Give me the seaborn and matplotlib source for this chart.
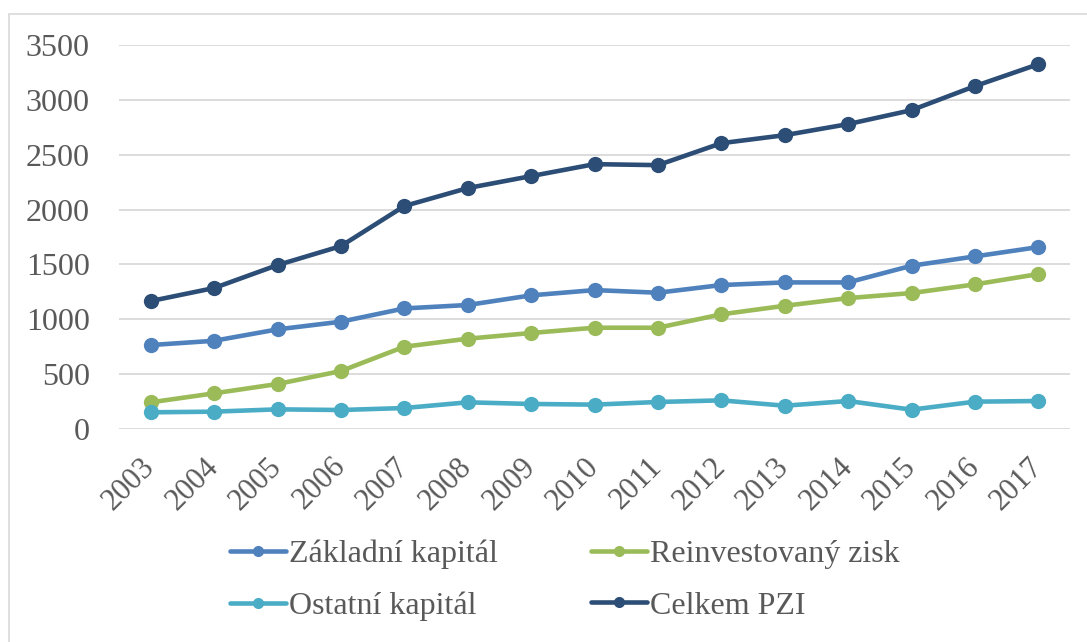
import matplotlib
matplotlib.use("Agg")
import matplotlib.pyplot as plt
import matplotlib.patches as mpatches
import seaborn as sns
import pandas as pd

# hodnoty
roky = list(range(2003, 2018))
zakladni = [765, 804, 908, 978, 1099, 1130, 1218, 1266, 1242, 1312, 1336, 1336, 1488, 1573, 1658]
reinvest = [243, 325, 410, 528, 750, 823, 875, 923, 923, 1045, 1123, 1193, 1239, 1318, 1412]
ostatni = [152, 158, 179, 173, 191, 243, 228, 222, 246, 261, 212, 255, 176, 249, 255]
celkem = [1166, 1285, 1494, 1667, 2032, 2196, 2305, 2414, 2405, 2605, 2678, 2779, 2906, 3125, 3325]

serie = ["Základní kapitál", "Reinvestovaný zisk", "Ostatní kapitál", "Celkem PZI"]
barvy = ["#4F81BD", "#9BBB59", "#4BACC6", "#2C4D75"]
y_ticks = [0, 500, 1000, 1500, 2000, 2500, 3000, 3500]

df = pd.concat([
    pd.DataFrame({"rok": roky, "hodnota": v, "serie": s})
    for s, v in zip(serie, [zakladni, reinvest, ostatni, celkem])
])

sns.set_style("white")
plt.rcParams["font.family"] = ["Liberation Serif", "DejaVu Serif"]
seda = "#595959"

fig = plt.figure(figsize=(10.87, 6.42), dpi=100)
fig.patches.append(mpatches.Rectangle((9 / 1087, -0.1), 2, (628 / 642) + 0.1,
                                      transform=fig.transFigure, fill=False,
                                      edgecolor="#D9D9D9", linewidth=1.2))
ax = fig.add_axes([0.1095, 0.3318, 0.8749, 0.5981])

sns.lineplot(data=df, x="rok", y="hodnota", hue="serie", hue_order=serie,
             palette=barvy, marker="o", markersize=11, markeredgewidth=0,
             linewidth=3.3, ax=ax, legend=False, zorder=3)

ax.set_xlim(2002.5, 2017.5)
ax.set_ylim(0, 3500)
ax.set_yticks(y_ticks)
ax.set_xticks(roky)
ax.set_xticklabels([str(r) for r in roky], rotation=45, ha="right",
                   rotation_mode="anchor", va="center")
ax.tick_params(axis="x", length=0, pad=24, labelsize=22, labelcolor=seda)
ax.tick_params(axis="y", length=0, pad=21, labelsize=23, labelcolor=seda)
ax.set_xlabel("")
ax.set_ylabel("")
ax.grid(axis="y", color="#D9D9D9", linewidth=1.3)
ax.grid(axis="x", visible=False)
for sp in ax.spines.values():
    sp.set_visible(False)

# legenda - poradi po radcich
handles = [plt.Line2D([], [], color=c, marker="o", markersize=8, markeredgewidth=0,
                      linewidth=3.3) for c in barvy]
poradi = [0, 2, 1, 3]
leg = fig.legend([handles[i] for i in poradi], [serie[i] for i in poradi],
                 loc="center", bbox_to_anchor=(565 / 1087, 1 - 580 / 642), ncol=2,
                 frameon=False, fontsize=23, handlelength=1.75, handletextpad=0.1,
                 columnspacing=2.9, labelspacing=0.7)
for t in leg.get_texts():
    t.set_color(seda)

fig.savefig("out.png", dpi=100)
